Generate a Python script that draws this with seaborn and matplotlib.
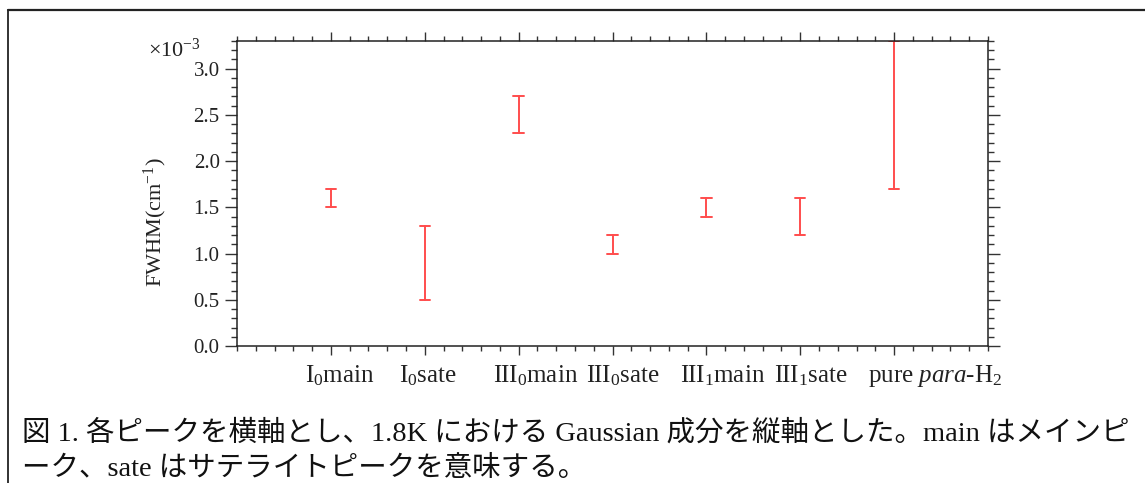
import numpy as np
import pandas as pd
import seaborn as sns
import matplotlib
matplotlib.use("Agg")
import matplotlib.pyplot as plt
import matplotlib.transforms as mtransforms
from matplotlib.ticker import MultipleLocator
from matplotlib.lines import Line2D

# ---- data ----
categories = [r"I$_0$main", r"I$_0$sate", r"III$_0$main", r"III$_0$sate",
              r"III$_1$main", r"III$_1$sate", r"pure $\it{para}$-H$_2$"]
lower = [1.5, 0.5, 2.3, 1.0, 1.4, 1.2, 1.7]   # x10^-3 cm^-1
upper = [1.7, 1.3, 2.7, 1.2, 1.6, 1.6, 3.3]
caption_line1 = "図 1. 各ピークを横軸とし、1.8K における Gaussian 成分を縦軸とした。main はメインピ"
caption_line2 = "ーク、sate はサテライトピークを意味する。"

df = pd.DataFrame({
    "peak": categories + categories,
    "fwhm": lower + upper,
})

sns.set_theme(style="ticks")
plt.rcParams["font.family"] = ["Liberation Serif", "Noto Sans CJK JP", "DejaVu Sans"]
plt.rcParams["mathtext.fontset"] = "custom"
plt.rcParams["mathtext.rm"] = "Liberation Serif"
plt.rcParams["mathtext.it"] = "Liberation Serif:italic"

fig = plt.figure(figsize=(11.45, 4.83), dpi=100)
ax = fig.add_axes([237/1145, 1-346/483, (988-237)/1145, (346-41)/483])

sns.pointplot(data=df, x="peak", y="fwhm", order=categories,
              estimator="mean", errorbar=lambda v: (v.min(), v.max()),
              marker="", linestyle="none", capsize=0.11,
              color="#ff2020", err_kws={"linewidth": 1.4, "alpha": 0.8},
              ax=ax)

ax.set_xlim(-1, 7)
ax.set_ylim(0, 3.3)
ax.xaxis.set_minor_locator(MultipleLocator(0.2))
ax.yaxis.set_minor_locator(MultipleLocator(0.1))
ax.set_yticks(np.arange(0, 3.01, 0.5))
ax.set_yticklabels([f"{v:.1f}" for v in np.arange(0, 3.01, 0.5)])
ax.set_xticks(range(len(categories)))
ax.set_xticklabels(categories)

for s in ax.spines.values():
    s.set_visible(True)
    s.set_linewidth(1.1)
    s.set_color("#222222")

ax.tick_params(axis="y", which="major", direction="out", length=8.5, width=1.0,
               left=True, right=True, labelsize=15, pad=4, color="#333333",
               labelcolor="#222222")
ax.tick_params(axis="y", which="minor", direction="out", length=4.3, width=1.0,
               left=True, right=True, color="#333333")
ax.tick_params(axis="x", which="major", direction="out", length=6.5, width=1.0,
               top=True, bottom=True, labelsize=18, pad=6, color="#333333",
               labelcolor="#222222")
ax.tick_params(axis="x", which="minor", direction="out", length=3.8, width=1.0,
               top=True, bottom=True, color="#333333")

# labels start a little left of their tick, as in the original layout
shift = mtransforms.ScaledTranslation(-26/100, 0, fig.dpi_scale_trans)
for lab in ax.get_xticklabels():
    lab.set_ha("left")
    lab.set_transform(lab.get_transform() + shift)

ax.set_xlabel("")
ax.set_ylabel(r"FWHM(cm$^{-1}$)", fontsize=16, color="#222222")
ax.yaxis.set_label_coords(-0.09, 0.407)

fig.text(148/1145, 1-50/483, r"×10$^{-3}$", fontsize=16, va="center", ha="left",
         color="#222222")

# frame around figure + caption
fig.add_artist(Line2D([8/1145, 1.0], [1-10/483, 1-10/483], transform=fig.transFigure,
                      color="#222222", linewidth=1.6))
fig.add_artist(Line2D([8/1145, 8/1145], [1-10/483, 0.0], transform=fig.transFigure,
                      color="#222222", linewidth=1.3))

fig.text(22/1145, 1-433/483, caption_line1, fontsize=20.5, va="center", ha="left",
         color="#111111")
fig.text(22/1145, 1-469/483, caption_line2, fontsize=20.5, va="center", ha="left",
         color="#111111")

fig.savefig("out.png", dpi=100)
